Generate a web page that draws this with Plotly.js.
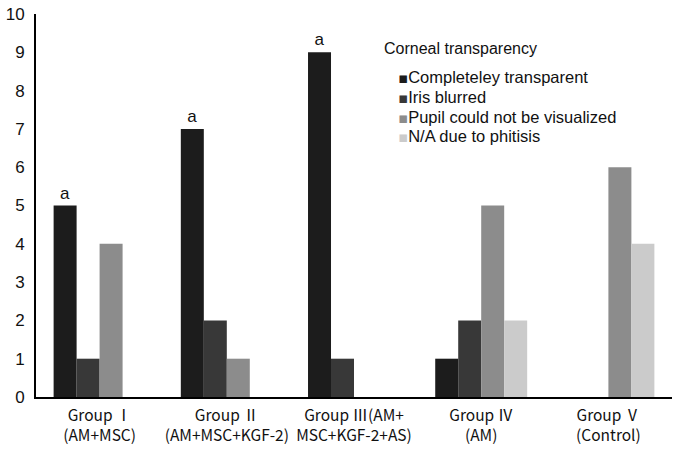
<!DOCTYPE html>
<html><head><meta charset="utf-8">
<script src="https://cdn.plot.ly/plotly-3.0.1.min.js"></script>
<style>html,body{margin:0;padding:0;background:#fff}#chart{width:678px;height:450px}</style>
</head><body><div id="chart"></div>
<script>
const categories = ["Group Ⅰ<br>(AM+MSC)", "Group Ⅱ<br>(AM+MSC+KGF-2)", "Group Ⅲ(AM+<br>MSC+KGF-2+AS)", "Group Ⅳ<br>(AM)", "Group Ⅴ<br>(Control)"];
const seriesNames = ["Completeley transparent", "Iris blurred", "Pupil could not be visualized", "N/A due to phitisis"];
const transparent = [5, 7, 9, 1, 0];
const irisBlurred = [1, 2, 1, 2, 0];
const pupilNotVisualized = [4, 1, 0, 5, 6];
const naPhitisis = [0, 0, 0, 2, 4];
const sigLabels = ["a", "a", "a", "", ""];
const legendTitle = "Corneal transparency";

const colors = ["#1c1c1c", "#383838", "#8c8c8c", "#cbcbcb"];
const values = [transparent, irisBlurred, pupilNotVisualized, naPhitisis];
const font = "Liberation Sans, Arial, Noto Sans CJK SC, sans-serif";

const traces = values.map((v, i) => {
  const t = {type: "bar", name: seriesNames[i], x: categories, y: v,
    marker: {color: colors[i]}, hoverinfo: "skip", showlegend: false};
  if (i === 0) {
    t.text = sigLabels; t.textposition = "outside"; t.cliponaxis = false;
    t.textfont = {family: font, size: 17, color: "#111"};
  }
  return t;
});

// pixel -> paper helpers (plot area 36..672 x, 14..397 y)
const px = p => (p - 36) / 636;
const py = p => (397 - p) / 383;

const annotations = [{text: legendTitle, xref: "paper", yref: "paper", x: px(382), y: py(48),
  xanchor: "left", yanchor: "middle", showarrow: false, font: {family: font, size: 16, color: "#111"}}];
seriesNames.forEach((name, i) => {
  annotations.push({
    text: `<span style="color:${colors[i]};font-family:DejaVu Sans;font-size:15px">▪</span>${name}`,
    xref: "paper", yref: "paper", x: px(396), y: py(78 + i * 19.6),
    xanchor: "left", yanchor: "middle", showarrow: false,
    font: {family: font, size: 16.5, color: "#111"}
  });
});

const layout = {
  width: 678, height: 450,
  margin: {l: 36, r: 6, t: 14, b: 53},
  paper_bgcolor: "#fff", plot_bgcolor: "#fff",
  barmode: "group", bargap: 0.277, bargroupgap: 0,
  font: {family: font, color: "#111"},
  showlegend: false,
  annotations: annotations,
  xaxis: {type: "category", showline: true, linecolor: "#000", linewidth: 2, ticks: "",
    ticklabelstandoff: 3,
    tickfont: {family: "Noto Sans CJK SC, Liberation Sans, sans-serif", size: 15.5, color: "#111"},
    showgrid: false, zeroline: false, fixedrange: true},
  yaxis: {range: [0, 10], dtick: 1, showline: true, linecolor: "#000", linewidth: 2, ticks: "",
    ticklabelstandoff: 6, tickfont: {family: font, size: 17, color: "#111"},
    showgrid: false, zeroline: false, fixedrange: true}
};
Plotly.newPlot("chart", traces, layout, {staticPlot: true});
</script></body></html>
